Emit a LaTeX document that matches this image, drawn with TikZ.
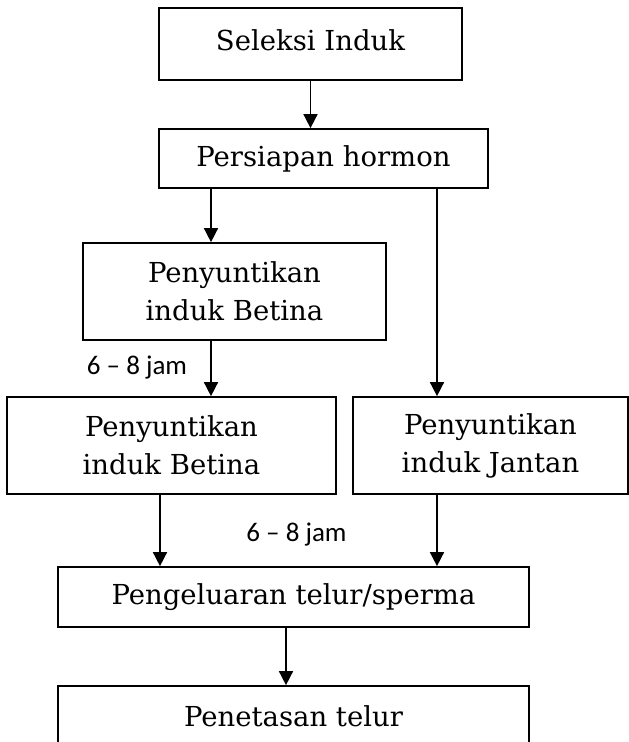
\documentclass[tikz,border=0pt]{standalone}
\usepackage{fontspec}
\setmainfont{DejaVu Serif}
\newfontfamily\labelfont{Carlito}
\usetikzlibrary{arrows.meta}
\begin{document}
\begin{tikzpicture}[x=1pt,y=-1pt,
  box/.style={draw, line width=1.7pt, rectangle, inner sep=0pt, align=center,
    font=\fontsize{27.5}{38}\selectfont},
  arr/.style={line width=1.6pt, -{Triangle[width=14pt,length=14pt]}},
  note/.style={font=\labelfont\fontsize{27}{30}\selectfont, inner sep=0pt}]
  \useasboundingbox (0,0) rectangle (629,742);
  \clip (0,0) rectangle (629,742);

  % process boxes
  \node[box, minimum width=303, minimum height=72, text depth=8pt] (sel) at (310.5,44) {Seleksi Induk};
  \node[box, minimum width=329, minimum height=59] (hor) at (323.5,158.5) {Persiapan hormon};
  \node[box, minimum width=303, minimum height=97] (bet1) at (234.5,291.5) {Penyuntikan\\induk Betina};
  \node[box, minimum width=329, minimum height=97] (bet2) at (171.5,445.5) {Penyuntikan\\induk Betina};
  \node[box, minimum width=275, minimum height=97] (jan) at (490.5,445.5) {Penyuntikan\\induk Jantan};
  \node[box, minimum width=471, minimum height=60] (kel) at (293.5,597) {Pengeluaran telur/sperma};
  \node[box, minimum width=471, minimum height=60] (tet) at (293.5,716) {Penetasan telur};

  % time notes
  \node[note] (t1) at (137,368) {6 – 8 jam};
  \node[note] (t2) at (296.5,535) {6 – 8 jam};

  % vertical lanes of the connectors
  \coordinate (xa) at (211,0);
  \coordinate (xb) at (437,0);
  \coordinate (xc) at (160,0);
  \coordinate (xd) at (286,0);

  % connectors
  \draw[arr] (sel.south) -- (sel.south |- hor.north);
  \draw[arr] (hor.south -| xa) -- (bet1.north -| xa);
  \draw[arr] (bet1.south -| xa) -- (bet2.north -| xa);
  \draw[arr] (hor.south -| xb) -- (jan.north -| xb);
  \draw[arr] (bet2.south -| xc) -- (kel.north -| xc);
  \draw[arr] (jan.south -| xb) -- (kel.north -| xb);
  \draw[arr] (kel.south -| xd) -- (tet.north -| xd);
\end{tikzpicture}
\end{document}
